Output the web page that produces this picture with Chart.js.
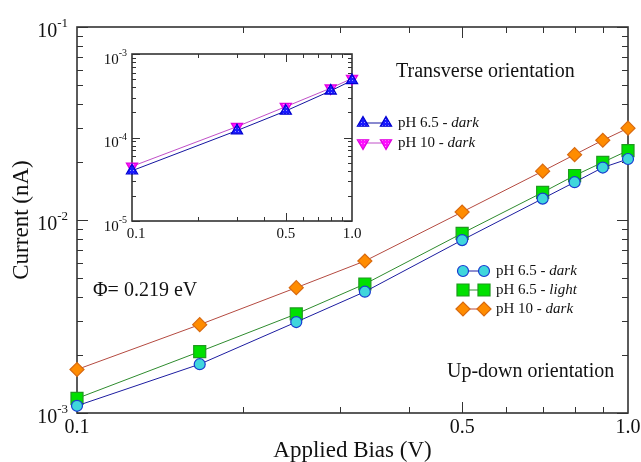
<!DOCTYPE html>
<html>
<head>
<meta charset="utf-8">
<script src="https://cdn.jsdelivr.net/npm/chart.js@4/dist/chart.umd.min.js"></script>
<style>
  body { margin: 0; background: #fff; }
  #wrap { position: relative; width: 641px; height: 462px; }
  canvas { position: absolute; }
  #mainChart { left: 0; top: 0; }
  #insetChart { left: 90px; top: 40px; }
</style>
</head>
<body>
<div id="wrap">
  <canvas id="mainChart" width="641" height="462"></canvas>
  <canvas id="insetChart" width="430" height="200"></canvas>
</div>
<script>
// main plot data (Up-down orientation)
const biasMain = [0.1, 0.167, 0.25, 0.333, 0.5, 0.7, 0.8, 0.9, 1.0];
const ph65Dark = [1.09e-3, 1.79e-3, 2.96e-3, 4.25e-3, 7.87e-3, 1.29e-2, 1.57e-2, 1.87e-2, 2.07e-2];
const ph65Light = [1.19e-3, 2.08e-3, 3.26e-3, 4.66e-3, 8.53e-3, 1.39e-2, 1.70e-2, 1.99e-2, 2.29e-2];
const ph10Dark = [1.68e-3, 2.87e-3, 4.46e-3, 6.13e-3, 1.10e-2, 1.79e-2, 2.18e-2, 2.59e-2, 2.99e-2];

// inset data (Transverse orientation)
const biasInset = [0.1, 0.3, 0.5, 0.8, 1.0];
const insetPh65Dark = [4.0e-5, 1.21e-4, 2.08e-4, 3.62e-4, 4.82e-4];
const insetPh10Dark = [4.51e-5, 1.35e-4, 2.34e-4, 3.90e-4, 5.09e-4];

// tick labels
const xTickVals = [0.1, 0.5, 1.0];
const xTickLabels = ["0.1", "0.5", "1.0"];
const mainYExp = [-3, -2, -1];
const insetYExp = [-5, -4, -3];

const SERIF = '"Liberation Serif", "DejaVu Serif", serif';
const AXIS = "#333";

function xy(xs, ys) {
  return xs.map((x, i) => ({ x: x, y: ys[i] }));
}

// small dotted fill like the triangles in the picture
function dotted(color) {
  const c = document.createElement("canvas");
  c.width = 3; c.height = 3;
  const g = c.getContext("2d");
  g.fillStyle = color;
  g.fillRect(0, 0, 3, 3);
  g.fillStyle = "rgba(255,255,255,0.55)";
  g.fillRect(1, 1, 1, 1);
  return g.createPattern(c, "repeat");
}

function minorTicks(lo, hi) {
  let out = [];
  for (let d = lo; d < hi; d++) {
    for (let m = 2; m <= 9; m++) out.push(m * Math.pow(10, d));
  }
  return out;
}
const xMinor = [0.2, 0.3, 0.4, 0.6, 0.7, 0.8, 0.9];

// "10" with a superscript exponent, right aligned at xr
function drawPow(ctx, exp, xr, yc, size) {
  const sup = Math.round(size * 0.65);
  ctx.font = size + "px " + SERIF;
  const w1 = ctx.measureText("10").width;
  ctx.font = sup + "px " + SERIF;
  const w2 = ctx.measureText(String(exp)).width;
  const x0 = xr - w1 - w2;
  ctx.textBaseline = "middle";
  ctx.textAlign = "left";
  ctx.font = size + "px " + SERIF;
  ctx.fillText("10", x0, yc);
  ctx.font = sup + "px " + SERIF;
  ctx.fillText(String(exp), x0 + w1, yc - size * 0.42);
}

// text with an italic tail, e.g. "pH 6.5 - " + "dark"
function drawMixed(ctx, plain, ital, x, y, size) {
  ctx.textAlign = "left";
  ctx.textBaseline = "middle";
  ctx.font = size + "px " + SERIF;
  ctx.fillText(plain, x, y);
  const w = ctx.measureText(plain).width;
  ctx.font = "italic " + size + "px " + SERIF;
  ctx.fillText(ital, x + w, y);
}

function frameAndTicks(chart, cfg) {
  const ctx = chart.ctx;
  const a = chart.chartArea;
  const xs = chart.scales.x, ys = chart.scales.y;
  ctx.save();
  ctx.strokeStyle = AXIS;
  ctx.lineWidth = 1;
  const tick = (v, len, horiz) => {
    ctx.beginPath();
    if (horiz) {
      const px = Math.round(xs.getPixelForValue(v)) + 0.5;
      ctx.moveTo(px, a.bottom); ctx.lineTo(px, a.bottom - len);
      ctx.moveTo(px, a.top); ctx.lineTo(px, a.top + len);
    } else {
      const py = Math.round(ys.getPixelForValue(v)) + 0.5;
      ctx.moveTo(a.left, py); ctx.lineTo(a.left + len, py);
      ctx.moveTo(a.right, py); ctx.lineTo(a.right - len, py);
    }
    ctx.stroke();
  };
  xMinor.forEach(v => tick(v, cfg.minor, true));
  [0.5].forEach(v => tick(v, cfg.major, true));
  minorTicks(cfg.yLo, cfg.yHi).forEach(v => tick(v, cfg.minor, false));
  cfg.yExp.forEach(e => tick(Math.pow(10, e), cfg.major, false));

  ctx.lineWidth = 1.6;
  ctx.strokeRect(a.left, a.top, a.right - a.left, a.bottom - a.top);

  // tick labels
  ctx.fillStyle = "#111";
  ctx.font = cfg.xFont + "px " + SERIF;
  ctx.textAlign = "center";
  ctx.textBaseline = "middle";
  xTickVals.forEach((v, i) => {
    ctx.fillText(xTickLabels[i], xs.getPixelForValue(v) + (i == 0 ? cfg.firstShift : 0), a.bottom + cfg.xLabelGap);
  });
  cfg.yExp.forEach(e => {
    drawPow(ctx, e, a.left - cfg.yLabelGap, ys.getPixelForValue(Math.pow(10, e)) + cfg.yLabelDrop, cfg.yFont);
  });
  ctx.restore();
}

function drawLegend(chart, rows) {
  const ctx = chart.ctx;
  ctx.save();
  rows.forEach(r => {
    const ds = chart.data.datasets[r.index];
    ctx.strokeStyle = ds.borderColor;
    ctx.lineWidth = 1;
    ctx.beginPath();
    ctx.moveTo(r.x1, r.y); ctx.lineTo(r.x2, r.y);
    ctx.stroke();
    const opts = { pointStyle: ds.pointStyle, rotation: ds.pointRotation || 0, radius: ds.pointRadius, borderWidth: ds.pointBorderWidth };
    ctx.fillStyle = ds.pointBackgroundColor;
    ctx.strokeStyle = ds.pointBorderColor;
    ctx.lineWidth = ds.pointBorderWidth;
    Chart.helpers.drawPoint(ctx, opts, r.x1, r.y);
    Chart.helpers.drawPoint(ctx, opts, r.x2, r.y);
    ctx.fillStyle = "#111";
    drawMixed(ctx, r.plain, r.ital, r.x2 + 12, r.y, r.size);
  });
  ctx.restore();
}

const mainDecor = {
  id: "mainDecor",
  beforeDatasetsDraw(chart) {
    frameAndTicks(chart, {
      minor: 6, major: 11, yLo: -3, yHi: -1, yExp: mainYExp,
      xFont: 20, yFont: 20, xLabelGap: 15, firstShift: 0, yLabelGap: 9, yLabelDrop: 5
    });
  },
  afterDatasetsDraw(chart) {
    const ctx = chart.ctx;
    const a = chart.chartArea;
    ctx.save();
    ctx.fillStyle = "#111";
    ctx.textBaseline = "middle";
    ctx.textAlign = "center";
    ctx.font = "23px " + SERIF;
    ctx.fillText("Applied Bias (V)", (a.left + a.right) / 2, 451);
    ctx.translate(22, (a.top + a.bottom) / 2);
    ctx.rotate(-Math.PI / 2);
    ctx.fillText("Current (nA)", 0, 0);
    ctx.restore();

    ctx.save();
    ctx.fillStyle = "#111";
    ctx.textBaseline = "middle";
    ctx.textAlign = "left";
    ctx.font = "20px " + SERIF;
    ctx.fillText("Transverse orientation", 396, 72);
    ctx.fillText("Up-down orientation", 447, 372);
    ctx.fillText("\u03A6= 0.219 eV", 93, 291);
    ctx.restore();

    drawLegend(chart, [
      { index: 0, x1: 463, x2: 484, y: 271, plain: "pH 6.5 - ", ital: "dark", size: 15 },
      { index: 1, x1: 463, x2: 484, y: 290, plain: "pH 6.5 - ", ital: "light", size: 15 },
      { index: 2, x1: 463, x2: 484, y: 309, plain: "pH 10 - ", ital: "dark", size: 15 }
    ]);
  }
};

const insetDecor = {
  id: "insetDecor",
  beforeDatasetsDraw(chart) {
    const a = chart.chartArea;
    chart.ctx.save();
    chart.ctx.fillStyle = "#fff";
    chart.ctx.fillRect(a.left, a.top, a.right - a.left, a.bottom - a.top);
    chart.ctx.restore();
    frameAndTicks(chart, {
      minor: 4, major: 8, yLo: -5, yHi: -3, yExp: insetYExp,
      xFont: 15, yFont: 15, xLabelGap: 13, firstShift: 4, yLabelGap: 5, yLabelDrop: 6
    });
  },
  afterDatasetsDraw(chart) {
    drawLegend(chart, [
      { index: 0, x1: 273, x2: 296, y: 83, plain: "pH 6.5 - ", ital: "dark", size: 15 },
      { index: 1, x1: 273, x2: 296, y: 103, plain: "pH 10 - ", ital: "dark", size: 15 }
    ]);
  }
};

function logScale(min, max) {
  return {
    type: "logarithmic",
    min: min,
    max: max,
    ticks: { display: false },
    grid: { display: false, drawTicks: false },
    border: { display: false }
  };
}

const commonOpts = {
  responsive: false,
  animation: false,
  events: [],
  plugins: { legend: { display: false }, tooltip: { enabled: false } }
};

new Chart(document.getElementById("mainChart"), {
  type: "line",
  data: {
    datasets: [
      {
        label: "pH 6.5 - dark",
        data: xy(biasMain, ph65Dark),
        borderColor: "#1c1ca0",
        borderWidth: 1,
        pointStyle: "circle",
        pointRadius: 5.5,
        pointBackgroundColor: "#3fd6dc",
        pointBorderColor: "#1a3cd0",
        pointBorderWidth: 1.2,
        tension: 0,
        clip: false
      },
      {
        label: "pH 6.5 - light",
        data: xy(biasMain, ph65Light),
        borderColor: "#2e8b2e",
        borderWidth: 1,
        pointStyle: "rect",
        pointRadius: 8.5,
        pointBackgroundColor: "#00e000",
        pointBorderColor: "#1f9a1f",
        pointBorderWidth: 1.2,
        tension: 0,
        clip: false
      },
      {
        label: "pH 10 - dark",
        data: xy(biasMain, ph10Dark),
        borderColor: "#b44a40",
        borderWidth: 1,
        pointStyle: "rectRot",
        pointRadius: 7,
        pointBackgroundColor: "#ff8c00",
        pointBorderColor: "#d86a10",
        pointBorderWidth: 1.2,
        tension: 0,
        clip: false
      }
    ]
  },
  options: Object.assign({}, commonOpts, {
    layout: { padding: { left: 77, right: 13, top: 27, bottom: 49 } },
    scales: { x: logScale(0.1, 1.0), y: logScale(1e-3, 1e-1) }
  }),
  plugins: [mainDecor]
});

new Chart(document.getElementById("insetChart"), {
  type: "line",
  data: {
    datasets: [
      {
        label: "pH 6.5 - dark",
        data: xy(biasInset, insetPh65Dark),
        borderColor: "#1414a0",
        borderWidth: 1,
        pointStyle: "triangle",
        pointRadius: 6.5,
        pointBackgroundColor: dotted("#1a1aff"),
        pointBorderColor: "#0000d0",
        pointBorderWidth: 1.2,
        tension: 0,
        clip: false
      },
      {
        label: "pH 10 - dark",
        data: xy(biasInset, insetPh10Dark),
        borderColor: "#c050c8",
        borderWidth: 1,
        pointStyle: "triangle",
        pointRotation: 180,
        pointRadius: 6.5,
        pointBackgroundColor: dotted("#ff10ff"),
        pointBorderColor: "#e000e0",
        pointBorderWidth: 1.2,
        tension: 0,
        clip: false
      }
    ]
  },
  options: Object.assign({}, commonOpts, {
    layout: { padding: { left: 42, right: 168, top: 14, bottom: 19 } },
    scales: { x: logScale(0.1, 1.0), y: logScale(1e-5, 1e-3) }
  }),
  plugins: [insetDecor]
});
</script>
</body>
</html>
